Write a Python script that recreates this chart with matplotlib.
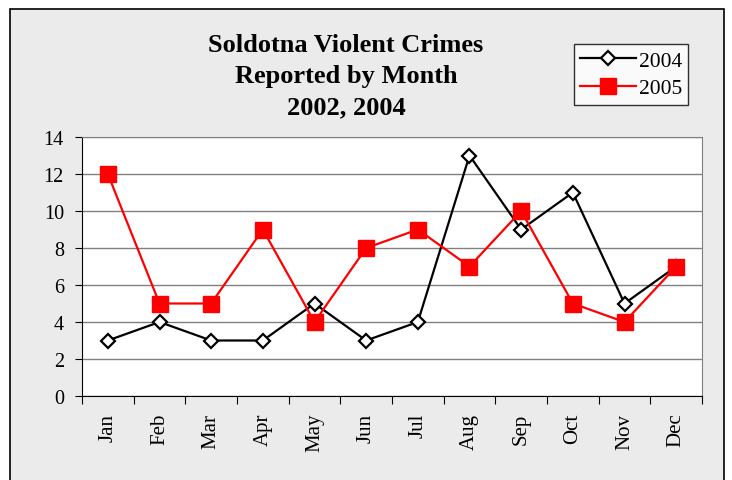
import matplotlib.pyplot as plt
from matplotlib.patches import Rectangle

months = ['Jan', 'Feb', 'Mar', 'Apr', 'May', 'Jun', 'Jul', 'Aug', 'Sep', 'Oct', 'Nov', 'Dec']
crimes_2004 = [3, 4, 3, 3, 5, 3, 4, 13, 9, 11, 5, 7]
crimes_2005 = [12, 5, 5, 9, 4, 8, 9, 7, 10, 5, 4, 7]

plt.rcParams['font.family'] = ['Liberation Serif', 'DejaVu Serif']

W, H = 732, 481
fig = plt.figure(figsize=(W / 100, H / 100), dpi=100)
fig.patch.set_facecolor('white')

# fondo gris del grafico con borde negro
fig.patches.append(Rectangle((10 / W, -0.05), (724 - 10) / W, (H - 10) / H + 0.05,
                             transform=fig.transFigure, facecolor='#ebebeb',
                             edgecolor='black', linewidth=1.2, zorder=-1))

ax = fig.add_axes([82 / W, 1 - 397 / H, (702 - 82) / W, (397 - 138) / H])
ax.set_zorder(2)
ax.set_facecolor('white')
x = range(len(months))

ax.plot(x, crimes_2004, color='black', linewidth=1.6, marker='D', markersize=7.5,
        markerfacecolor='white', markeredgecolor='black', markeredgewidth=1.6, label='2004')
ax.plot(x, crimes_2005, color='red', linewidth=1.6, marker='s', markersize=11.5,
        markerfacecolor='red', markeredgecolor='red', label='2005')

ax.set_xlim(-0.5, len(months) - 0.5)
ax.set_ylim(0, 14)
ax.set_yticks(range(0, 15, 2))
ax.yaxis.grid(True, color='#808080', linewidth=1)
ax.set_axisbelow(True)
ax.set_xticks([i + 0.5 for i in range(-1, len(months))], minor=False)
ax.set_xticklabels([])
ax.set_xticks(list(x), minor=True)
ax.set_xticklabels(months, minor=True, rotation=90, fontsize=15)
ax.tick_params(axis='x', which='minor', length=0, pad=12)
ax.tick_params(axis='x', which='major', length=6, direction='out', color='black')
ax.tick_params(axis='y', length=5, direction='out', labelsize=14.5, color='black', pad=8)

for side in ['top', 'right']:
    ax.spines[side].set_color('#808080')
ax.spines['left'].set_color('black')
ax.spines['bottom'].set_color('black')

fig.text(346 / W, 1 - 77 / H, 'Soldotna Violent Crimes\nReported by Month\n2002, 2004',
         ha='center', va='center', fontsize=19, fontweight='bold', linespacing=1.45)

leg = ax.legend(loc='upper left', bbox_to_anchor=(574 / W, 1 - 45 / H),
                bbox_transform=fig.transFigure, fontsize=15.5, frameon=True,
                fancybox=False, edgecolor='black', handlelength=2.6,
                borderpad=0.3, labelspacing=0.35, handletextpad=0.1,
                borderaxespad=0)
leg.get_frame().set_linewidth(1)

plt.savefig('out.png', dpi=100)
